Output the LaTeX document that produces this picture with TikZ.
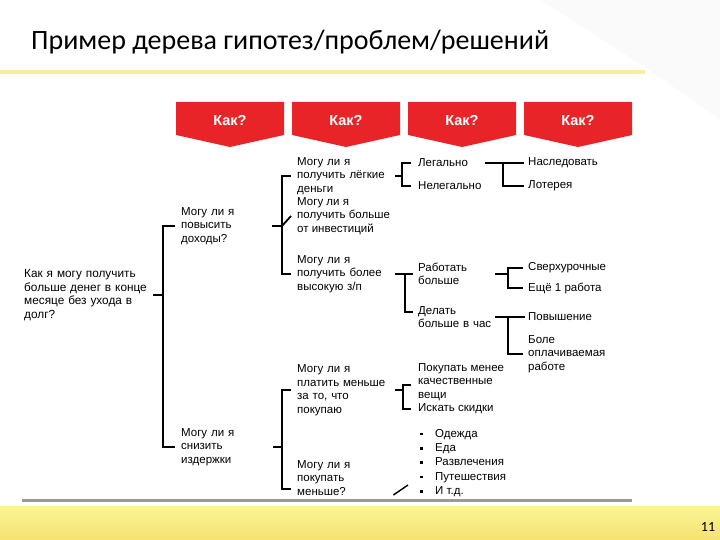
\documentclass[tikz,border=0pt]{standalone}
\usepackage{fontspec}
\setmainfont{Liberation Sans}
\newfontfamily\titlefont{Carlito}
\definecolor{hdred}{RGB}{232,36,40}
\definecolor{titleline}{RGB}{247,238,160}
\definecolor{bandtop}{RGB}{250,244,150}
\definecolor{bandbot}{RGB}{246,226,112}
\tikzset{br/.style = {line width = 1.8pt}}
\tikzset{txt/.style = {anchor = west, inner sep = 0, align = left, font = \fontsize{11.5}{13.5}\selectfont}}
\tikzset{hdr/.style = {fill = hdred}}
\tikzset{hdrtxt/.style = {text = white, inner sep = 0, font = \bfseries\fontsize{14.5}{16}\selectfont}}
\newcommand{\itm}{\makebox[15pt][l]{\rule[1.8pt]{2.6pt}{2.6pt}}}
\begin{document}
\begin{tikzpicture}[x = 1pt, y = -1pt]
      \useasboundingbox (0, 0) rectangle (720, 540);
      \fill[white] (0, 0) rectangle (720, 540);
      \fill[black!2] (540, 0) .. controls (620, 50) and (680, 90) .. (720, 120) -- (720, 0) -- cycle;
      \node [anchor = west, inner sep = 0, font = \titlefont\fontsize{28}{32}\selectfont] (title) at (31, 42) {Пример дерева гипотез/проблем/решений};
      \draw [line width = 3.5pt, titleline] (0, 72) -- (645, 72);
      % headers
      \fill [hdr] (176, 102) -- (284, 102) -- (284, 135) -- (230, 147) -- (176, 135) -- cycle;
      \fill [hdr] (292, 102) -- (400, 102) -- (400, 135) -- (346, 147) -- (292, 135) -- cycle;
      \fill [hdr] (408, 102) -- (516, 102) -- (516, 135) -- (462, 147) -- (408, 135) -- cycle;
      \fill [hdr] (524, 102) -- (632, 102) -- (632, 135) -- (578, 147) -- (524, 135) -- cycle;
      \node [hdrtxt] (h1) at (230, 121) {Как?};
      \node [hdrtxt] (h2) at (346, 121) {Как?};
      \node [hdrtxt] (h3) at (462, 121) {Как?};
      \node [hdrtxt] (h4) at (578, 121) {Как?};
      % tree
      \node [txt, text width = 129, font = \fontsize{11.8}{13.7}\selectfont] (root) at (24, 295) {Как я могу получить\\больше денег в конце\\месяце без ухода в\\долг?};
      \node [txt, text width = 91] (inc) at (181, 226) {Могу ли я\\повысить\\доходы?};
      \node [txt, text width = 92] (cut) at (181, 447) {Могу ли я\\снизить\\издержки};
      \node [txt, text width = 98] (easy) at (297, 176) {Могу ли я\\получить лёгкие\\деньги};
      \node [txt] (inv) at (297, 216) {Могу ли я\\получить больше\\от инвестиций};
      \node [txt, text width = 98] (sal) at (297, 274) {Могу ли я\\получить более\\высокую з/п};
      \node [txt, text width = 98] (pay) at (297, 390) {Могу ли я\\платить меньше\\за то, что\\покупаю};
      \node [txt, text width = 96] (buy) at (297, 478) {Могу ли я\\покупать\\меньше?};
      \node [txt, text width = 67] (legal) at (418, 163) {Легально};
      \node [txt] (illegal) at (418, 186) {Нелегально};
      \node [txt, text width = 77] (work) at (418, 274) {Работать\\больше};
      \node [txt, text width = 77] (fast) at (418, 317) {Делать\\больше в час};
      \node [txt] (cheap) at (418, 382) {Покупать менее\\качественные\\вещи};
      \node [txt] (disc) at (418, 409) {Искать скидки};
      \node [txt, font = \fontsize{11.5}{14.3}\selectfont] (items) at (420, 463) {\itm Одежда\\\itm Еда\\\itm Развлечения\\\itm Путешествия\\\itm И т.д.};
      \node [txt] (inherit) at (528, 163) {Наследовать};
      \node [txt] (lottery) at (528, 186) {Лотерея};
      \node [txt] (overtime) at (528, 268) {Сверхурочные};
      \node [txt] (job) at (528, 288) {Ещё 1 работа};
      \node [txt] (promo) at (528, 317) {Повышение};
      \node [txt] (better) at (528, 354) {Боле\\оплачиваемая\\работе};
      % brackets
      \coordinate (j0) at (163, 295);
      \draw [br] (root.east) -- (j0);
      \draw [br] ([xshift = -6pt]inc.west) -| (j0) |- ([xshift = -6pt]cut.west);
      \coordinate (j1) at (282, 226);
      \draw [br] (inc.east) -- (j1);
      \draw [br] ([xshift = -6pt]easy.west) -| (j1) |- ([xshift = -6pt]sal.west);
      \draw [br] ([xshift = -6pt]inv.west) -- (j1);
      \coordinate (j2) at (402, 176);
      \draw [br] (easy.east) -- (j2);
      \draw [br] ([xshift = -7pt]legal.west) -| (j2) |- ([xshift = -7pt]illegal.west);
      \coordinate (j3) at (503, 163);
      \draw [br] (legal.east) -- ([xshift = -4pt]inherit.west);
      \draw [br] (j3) |- ([xshift = -4pt]lottery.west);
      \coordinate (j4) at (405, 274);
      \draw [br] (sal.east) -- ([xshift = -5pt]work.west);
      \draw [br] (j4) |- ([xshift = -5pt, yshift = 5pt]fast.west);
      \coordinate (j5) at (508, 274);
      \draw [br] (work.east) -- (j5);
      \draw [br] ([xshift = -5pt]overtime.west) -| (j5) |- ([xshift = -5pt]job.west);
      \coordinate (j6) at (508, 317);
      \draw [br] (fast.east) -- ([xshift = -3pt]promo.west);
      \draw [br] (j6) |- ([xshift = -5pt]better.west);
      \coordinate (j7) at (282, 447);
      \draw [br] (cut.east) -- (j7);
      \draw [br] ([xshift = -6pt]pay.west) -| (j7) |- ([xshift = -6pt, yshift = -11pt]buy.west);
      \coordinate (j8) at (403, 390);
      \draw [br] (pay.east) -- (j8);
      \draw [br] ([xshift = -7pt, yshift = -3pt]cheap.west) -| (j8) |- ([xshift = -7pt]disc.west);
      \draw [line width = 1.4pt] ([yshift = -17pt]buy.east) -- ([xshift = -12pt, yshift = -22pt]items.west);
      % bottom
      \draw [line width = 3pt, black!40] (22, 500) -- (632, 500);
      \shade [top color = bandtop, bottom color = bandbot] (0, 506) rectangle (720, 540);
      \node [font = \titlefont\fontsize{14}{16}\selectfont] (pnum) at (708, 527) {11};
    \end{tikzpicture}
\end{document}
